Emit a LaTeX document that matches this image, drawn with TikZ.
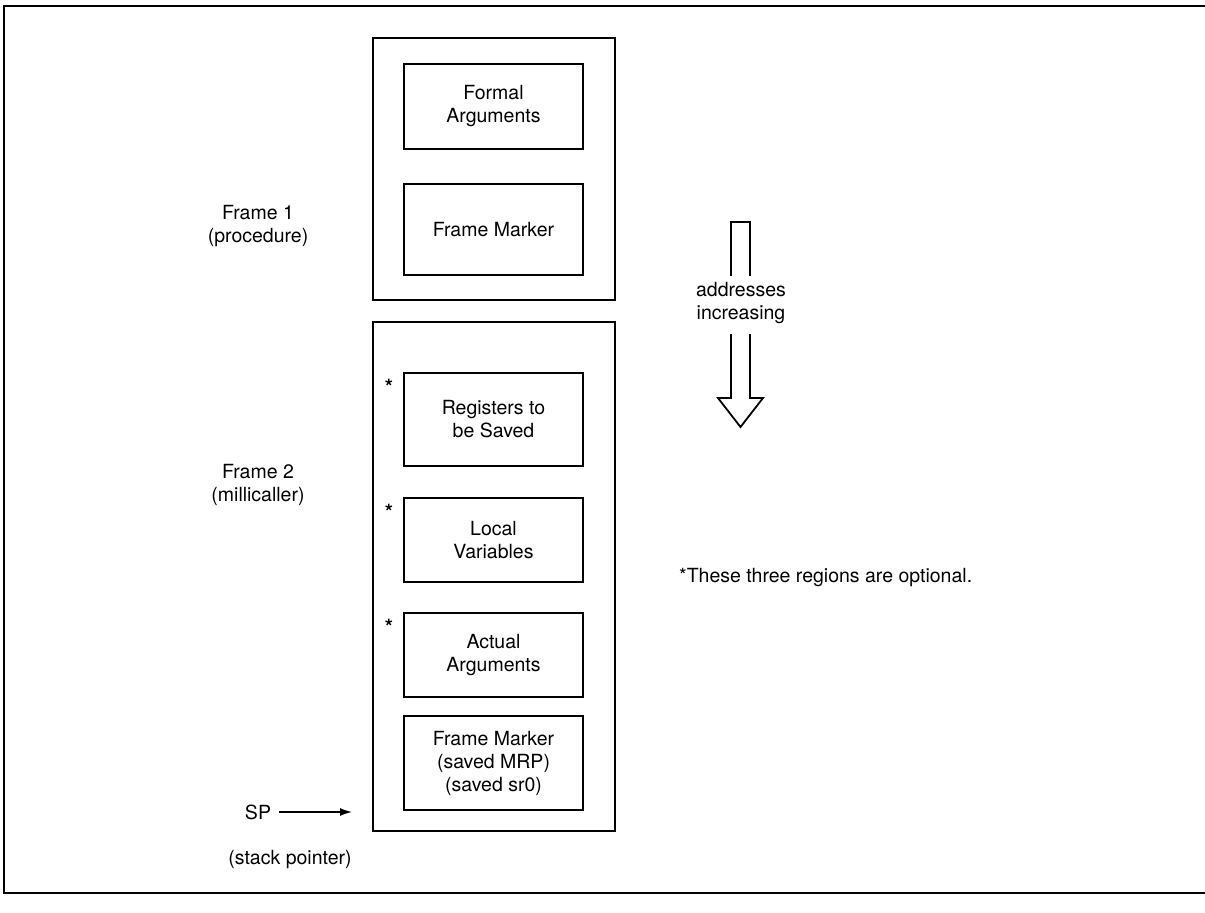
\documentclass[tikz,border=0pt]{standalone}
\usepackage{fontspec}
\setmainfont{TeX Gyre Heros}
\usetikzlibrary{arrows.meta}
\begin{document}
\begin{tikzpicture}[x=1pt,y=-1pt,
  txt/.style={font=\fontsize{19.5}{23}\selectfont, align=center, inner sep=0pt},
  framebox/.style={draw, line width=2.2pt, minimum width=242pt, inner sep=0pt},
  cell/.style={txt, draw, line width=1.8pt, minimum width=179pt},
  optmark/.style={font=\fontsize{21}{23}\selectfont\bfseries, inner sep=0pt, anchor=center},
  hollow/.style={line width=1.8pt, line join=miter}]
\useasboundingbox (0,0) rectangle (1205,913);

% outer border (open on the right)
\draw[line width=2.4pt] (1205,6) -- (4,6) -- (4,893) -- (1205,893);

% frame 1
\node[framebox, minimum height=262pt] (f1) at (494,169) {};
\node[cell, minimum height=85pt] (formal) at (493.5,106.5) {Formal\\Arguments};
\node[cell, minimum height=91pt] (fm1) at (493.5,229.5) {Frame Marker};
\node[txt] (lab1) at (258,226) {Frame 1\\(procedure)};

% frame 2
\node[framebox, minimum height=509pt] (f2) at (494,576.5) {};
\node[cell, minimum height=93pt] (regs) at (493.5,419.5) {Registers to\\be Saved};
\node[cell, minimum height=84pt] (locals) at (493.5,540) {Local\\Variables};
\node[cell, minimum height=84pt] (actual) at (493.5,655) {Actual\\Arguments};
\node[cell, minimum height=94pt] (fm2) at (493.5,763) {Frame Marker\\(saved MRP)\\(saved sr0)};
\node[txt] (lab2) at (258,485) {Frame 2\\(millicaller)};

% optional-region marks
\node[optmark] (s1) at (389,387) {*};
\node[optmark] (s2) at (389,512) {*};
\node[optmark] (s3) at (389,627) {*};

% stack pointer
\node[txt] (sp) at (258,812) {SP};
\coordinate (spend) at (352,812);
\draw[line width=1.4pt, -{Latex[length=12pt,width=8pt]}] ([xshift=8pt]sp.east) -- (spend);
\node[txt] (spl) at (290,860) {(stack pointer)};

% direction of increasing addresses
\node[txt] (addr) at (741,303) {addresses\\increasing};
\draw[hollow] (731,276) -- (731,222) -- (750,222) -- (750,276);
\draw[hollow] (731,334) -- (731,398) -- (718,398) -- (740.5,427) -- (763,398) -- (750,398) -- (750,334);

% footnote
\node[txt, anchor=west] (note) at (679,578) {*These three regions are optional.};
\end{tikzpicture}
\end{document}
